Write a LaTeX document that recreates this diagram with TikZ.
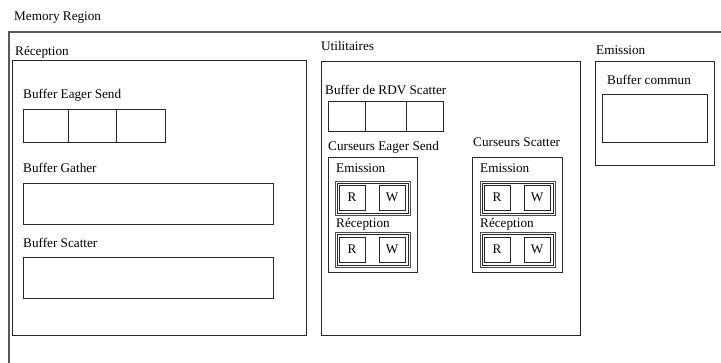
\documentclass[tikz,border=0pt]{standalone}
\usepackage{fontspec}
\setmainfont{Liberation Serif}
\begin{document}
\begin{tikzpicture}[x=1pt,y=-1pt,
  lbl/.style={anchor=base west, inner sep=0pt, font=\fontsize{13.2}{15}\selectfont},
  box/.style={draw=black!85, line width=1pt},
  frame/.style={draw=black!65, line width=1.2pt},
  grpo/.style={draw=black!70, line width=0.8pt},
  grpi/.style={draw=black!85, line width=0.8pt},
  rw/.style={draw=black!85, line width=0.8pt, minimum width=26pt, minimum height=25pt, inner sep=0pt, font=\fontsize{13.2}{15}\selectfont}]
\useasboundingbox (0,0) rectangle (721,363);
% outer memory region
\node[lbl] (memlbl) at (14,21) {Memory Region};
\draw[frame] (721,32) -- (9,32) -- (9,363);

% Reception
\node[lbl] (reclbl) at (15,56) {Réception};
\draw[box] (12,61) rectangle (306,336);
\node[lbl] (eagerlbl) at (23,99) {Buffer Eager Send};
\draw[box] (23,110) rectangle (165,143);
\draw[box] (68,110) -- (68,143);
\draw[box] (116,110) -- (116,143);
\node[lbl] (gatherlbl) at (23,173) {Buffer Gather};
\draw[box] (23,184) rectangle (273,225);
\node[lbl] (scatterlbl) at (23,248) {Buffer Scatter};
\draw[box] (23,258) rectangle (273,299);

% Utilitaires
\node[lbl] (utillbl) at (321,51) {Utilitaires};
\draw[box] (321,62) rectangle (580,336);
\node[lbl] (rdvlbl) at (325,95) {Buffer de RDV Scatter};
\draw[box] (328,102) rectangle (443,132);
\draw[box] (365,102) -- (365,132);
\draw[box] (406,102) -- (406,132);

% Curseurs Eager Send
\node[lbl] (cel) at (328,151) {Curseurs Eager Send};
\draw[box] (328,158) rectangle (417,273);
\node[lbl] (ce1) at (336,173) {Emission};
\draw[grpo] (335,181) rectangle (410,215);
\draw[grpi] (337,183) rectangle (408,213);
\node[rw] (cer1) at (352,197.5) {R};
\node[rw] (cew1) at (392,197.5) {W};
\node[lbl] (ce2) at (336,228) {Réception};
\draw[grpo] (335,232) rectangle (410,267);
\draw[grpi] (337,234) rectangle (408,265);
\node[rw] (cer2) at (352,249.5) {R};
\node[rw] (cew2) at (392,249.5) {W};

% Curseurs Scatter
\node[lbl] (csl) at (473,147) {Curseurs Scatter};
\draw[box] (472,158) rectangle (562,273);
\node[lbl] (cs1) at (480,173) {Emission};
\draw[grpo] (480,181) rectangle (555,215);
\draw[grpi] (482,183) rectangle (553,213);
\node[rw] (csr1) at (497,197.5) {R};
\node[rw] (csw1) at (537,197.5) {W};
\node[lbl] (cs2) at (480,228) {Réception};
\draw[grpo] (480,232) rectangle (555,267);
\draw[grpi] (482,234) rectangle (553,265);
\node[rw] (csr2) at (497,249.5) {R};
\node[rw] (csw2) at (537,249.5) {W};

% Emission
\node[lbl] (emlbl) at (596,55) {Emission};
\draw[box] (595,62) rectangle (714,166);
\node[lbl] (bclbl) at (607,85) {Buffer commun};
\draw[box] (602,95) rectangle (707,143);
\end{tikzpicture}
\end{document}
